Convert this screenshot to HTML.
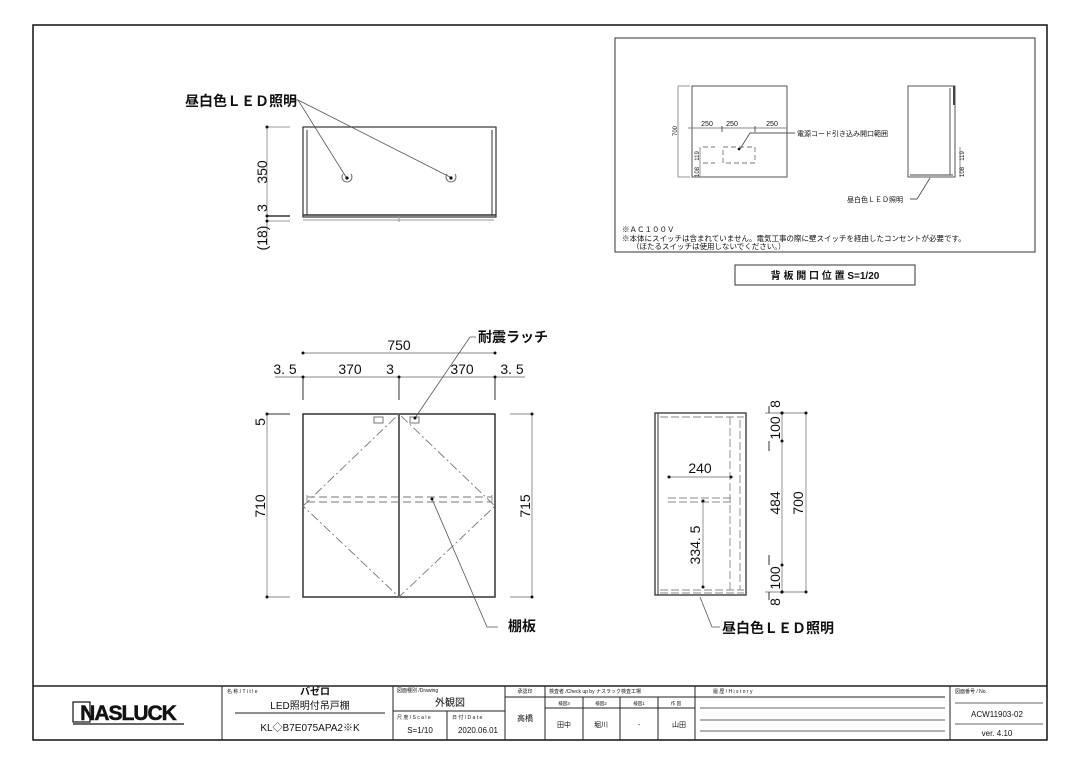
<!DOCTYPE html>
<html><head><meta charset="utf-8"><style>
html,body{margin:0;padding:0;background:#fff;}
svg{display:block;font-family:"Liberation Sans","Noto Sans CJK JP",sans-serif;}
.t{fill:#111;}
</style></head><body>
<svg width="1080" height="764" viewBox="0 0 1080 764" xmlns="http://www.w3.org/2000/svg">
<rect x="0" y="0" width="1080" height="764" fill="#fff"/>
<rect x="33" y="25" width="1014" height="715" fill="none" stroke="#111" stroke-width="1.5"/>

<!-- ===== Top-left view ===== -->
<g stroke="#333" fill="none" stroke-width="1">
<rect x="303" y="127" width="193" height="90" stroke-width="1.2"/>
<line x1="307" y1="130" x2="307" y2="215"/>
<line x1="492" y1="130" x2="492" y2="215"/>
<line x1="303" y1="215" x2="496" y2="215" stroke-width="1.5"/>
<line x1="303" y1="220" x2="494" y2="220" stroke="#999"/>
<line x1="399" y1="216" x2="399" y2="222" stroke="#999"/>
<line x1="267" y1="127" x2="267" y2="245" stroke="#999"/>
<line x1="267" y1="127" x2="290" y2="127" stroke="#999"/>
<line x1="267" y1="216" x2="290" y2="216" stroke-width="1.5"/>
<line x1="267" y1="221" x2="290" y2="221" stroke="#999"/>
<line x1="298" y1="100" x2="346" y2="177" stroke="#555" stroke-width="0.8"/>
<line x1="298" y1="100" x2="450" y2="177" stroke="#555" stroke-width="0.8"/>
<line x1="292" y1="100" x2="298" y2="100" stroke="#555"/>
<path d="M343 174 a5 5 0 1 0 8 0" stroke="#666"/>
<path d="M447 174 a5 5 0 1 0 8 0" stroke="#666"/>
</g>
<circle cx="347" cy="178" r="1.6" fill="#111"/><circle cx="451" cy="178" r="1.6" fill="#111"/>
<circle cx="267" cy="127" r="1.5" fill="#111"/><circle cx="267" cy="216" r="1.5" fill="#111"/><circle cx="267" cy="221" r="1.5" fill="#111"/>
<text x="185" y="106" font-size="14" font-weight="bold" class="t">昼白色ＬＥＤ照明</text>
<text transform="translate(267,172) rotate(-90)" font-size="14" text-anchor="middle" class="t">350</text>
<text transform="translate(267,208) rotate(-90)" font-size="14" text-anchor="middle" class="t">3</text>
<text transform="translate(267,238) rotate(-90)" font-size="14" text-anchor="middle" class="t">(18)</text>

<!-- ===== Front elevation ===== -->
<g stroke="#333" fill="none">
<rect x="303" y="414" width="192" height="183" stroke-width="1.5"/>
<line x1="399" y1="414" x2="399" y2="597" stroke-width="1.5"/>
<g stroke="#777" stroke-dasharray="9,3,2,3" stroke-width="0.9">
<polyline points="303,506 399,414 495,506 399,597 303,506"/>
</g>
<g stroke="#777" stroke-dasharray="8,4" stroke-width="0.9">
<line x1="307" y1="497" x2="492" y2="497"/><line x1="307" y1="502" x2="492" y2="502"/>
</g>
<line x1="307" y1="495" x2="307" y2="503" stroke="#999"/><line x1="492" y1="495" x2="492" y2="503" stroke="#999"/>
<g stroke="#888" stroke-width="0.9">
<line x1="303" y1="353" x2="495" y2="353"/>
<line x1="275" y1="377" x2="525" y2="377"/>
<line x1="267" y1="414" x2="267" y2="597"/>
<line x1="267" y1="597" x2="290" y2="597"/>
<line x1="532" y1="414" x2="532" y2="597"/>
<line x1="510" y1="414" x2="532" y2="414"/>
<line x1="510" y1="597" x2="532" y2="597"/>
</g>
<g stroke="#333">
<line x1="303" y1="377" x2="303" y2="400"/><line x1="399" y1="377" x2="399" y2="400"/><line x1="495" y1="377" x2="495" y2="400"/>
<line x1="267" y1="414" x2="290" y2="414"/>
</g>
<g stroke="#555" stroke-width="0.8">
<polyline points="415,418 470,337 476,337"/>
<polyline points="432,499 487,627 498,627"/>
</g>
<rect x="374" y="417" width="9" height="6" stroke="#777"/><rect x="410" y="417" width="9" height="6" stroke="#777"/>
</g>
<g fill="#111">
<circle cx="303" cy="353" r="1.5"/><circle cx="495" cy="353" r="1.5"/>
<circle cx="303" cy="377" r="1.5"/><circle cx="399" cy="377" r="1.5"/><circle cx="495" cy="377" r="1.5"/>
<circle cx="267" cy="414" r="1.5"/><circle cx="267" cy="597" r="1.5"/><circle cx="532" cy="414" r="1.5"/><circle cx="532" cy="597" r="1.5"/>
<circle cx="432" cy="499" r="1.5"/><circle cx="415" cy="418" r="1.5"/>
</g>
<text x="399" y="350" font-size="14" text-anchor="middle" class="t">750</text>
<text x="285" y="374" font-size="14" text-anchor="middle" class="t">3. 5</text>
<text x="350" y="374" font-size="14" text-anchor="middle" class="t">370</text>
<text x="390" y="374" font-size="14" text-anchor="middle" class="t">3</text>
<text x="462" y="374" font-size="14" text-anchor="middle" class="t">370</text>
<text x="512" y="374" font-size="14" text-anchor="middle" class="t">3. 5</text>
<text x="478" y="342" font-size="14" font-weight="bold" class="t">耐震ラッチ</text>
<text x="508" y="631" font-size="14" font-weight="bold" class="t">棚板</text>
<text transform="translate(265,422) rotate(-90)" font-size="14" text-anchor="middle" class="t">5</text>
<text transform="translate(265,506) rotate(-90)" font-size="14" text-anchor="middle" class="t">710</text>
<text transform="translate(530,506) rotate(-90)" font-size="14" text-anchor="middle" class="t">715</text>

<!-- ===== Side view ===== -->
<g fill="none" stroke="#333">
<rect x="655" y="413" width="91" height="182" stroke-width="1.3"/>
<line x1="658" y1="413" x2="658" y2="595"/>
<g stroke="#888" stroke-dasharray="8,3" stroke-width="0.9">
<line x1="660" y1="417" x2="744" y2="417"/>
<line x1="730" y1="417" x2="730" y2="590"/>
<line x1="660" y1="590" x2="744" y2="590"/>
<line x1="668" y1="498" x2="731" y2="498"/><line x1="668" y1="502" x2="731" y2="502"/>
<line x1="660" y1="593" x2="744" y2="593"/>
<line x1="740" y1="420" x2="740" y2="590"/>
</g>
<g stroke="#888" stroke-width="0.9">
<line x1="669" y1="477" x2="731" y2="477"/>
<line x1="703" y1="501" x2="703" y2="587"/>
<line x1="782" y1="413" x2="782" y2="592"/>
<line x1="806" y1="413" x2="806" y2="592"/>
<line x1="765" y1="413" x2="806" y2="413"/>
<line x1="765" y1="592" x2="806" y2="592"/>
</g>
<g stroke="#333"><line x1="769" y1="441" x2="769" y2="451"/><line x1="769" y1="555" x2="769" y2="565"/><line x1="769" y1="406" x2="769" y2="413"/><line x1="769" y1="592" x2="769" y2="600"/></g>
<polyline points="700,597 712,627 720,627" stroke="#555" stroke-width="0.8"/>
</g>
<g fill="#111">
<circle cx="669" cy="477" r="1.5"/><circle cx="731" cy="477" r="1.5"/><circle cx="703" cy="501" r="1.5"/><circle cx="703" cy="587" r="1.5"/>
<circle cx="782" cy="413" r="1.6"/><circle cx="782" cy="441" r="1.5"/><circle cx="782" cy="565" r="1.5"/><circle cx="782" cy="592" r="1.6"/>
<circle cx="806" cy="413" r="1.5"/><circle cx="806" cy="592" r="1.5"/>
</g>
<text x="700" y="473" font-size="14" text-anchor="middle" class="t">240</text>
<text transform="translate(700,545) rotate(-90)" font-size="14" text-anchor="middle" class="t">334. 5</text>
<text transform="translate(780,404) rotate(-90)" font-size="14" text-anchor="middle" class="t">8</text>
<text transform="translate(780,428) rotate(-90)" font-size="14" text-anchor="middle" class="t">100</text>
<text transform="translate(780,503) rotate(-90)" font-size="14" text-anchor="middle" class="t">484</text>
<text transform="translate(780,578) rotate(-90)" font-size="14" text-anchor="middle" class="t">100</text>
<text transform="translate(780,602) rotate(-90)" font-size="14" text-anchor="middle" class="t">8</text>
<text transform="translate(803,503) rotate(-90)" font-size="14" text-anchor="middle" class="t">700</text>
<text x="722" y="633" font-size="14" font-weight="bold" class="t">昼白色ＬＥＤ照明</text>

<!-- ===== Inset ===== -->
<rect x="615" y="38" width="420" height="214" fill="none" stroke="#333" stroke-width="1"/>
<g fill="none" stroke="#444" stroke-width="0.9">
<rect x="692" y="86" width="95" height="91"/>
<line x1="688" y1="128" x2="787" y2="128" stroke="#888"/>
<line x1="722" y1="126" x2="722" y2="132"/><line x1="755" y1="126" x2="755" y2="132"/>
<line x1="678" y1="86" x2="678" y2="177" stroke="#888"/>
<line x1="678" y1="86" x2="690" y2="86" stroke="#888"/><line x1="678" y1="177" x2="690" y2="177" stroke="#888"/>
<g stroke-dasharray="5,3" stroke="#777"><rect x="723" y="147" width="32" height="16"/><polyline points="703,147 715,147"/><polyline points="703,163 715,163"/></g>
<line x1="700" y1="147" x2="700" y2="177" stroke="#888"/>
<polyline points="740,149 750,133 795,133" stroke="#555"/>
<rect x="908" y="86" width="47" height="91"/>
<line x1="950" y1="88" x2="950" y2="175"/><line x1="910" y1="175" x2="953" y2="175"/>
<line x1="954" y1="86" x2="954" y2="105" stroke-width="2"/>
<line x1="960" y1="147" x2="960" y2="177" stroke="#888"/>
<polyline points="930,178 917,199 910,199" stroke="#555"/>
</g>
<circle cx="739" cy="149" r="1.3" fill="#111"/>
<text x="707" y="126" font-size="7" text-anchor="middle" class="t">250</text>
<text x="732" y="126" font-size="7" text-anchor="middle" class="t">250</text>
<text x="772" y="126" font-size="7" text-anchor="middle" class="t">250</text>
<text transform="translate(677,131) rotate(-90)" font-size="6" text-anchor="middle" class="t">700</text>
<text transform="translate(699,156) rotate(-90)" font-size="6" text-anchor="middle" class="t">119</text>
<text transform="translate(699,172) rotate(-90)" font-size="6" text-anchor="middle" class="t">108</text>
<text transform="translate(964,156) rotate(-90)" font-size="6" text-anchor="middle" class="t">119</text>
<text transform="translate(964,172) rotate(-90)" font-size="6" text-anchor="middle" class="t">108</text>
<text x="797" y="136" font-size="7" class="t">電源コード引き込み開口範囲</text>
<text x="847" y="202" font-size="7" class="t">昼白色ＬＥＤ照明</text>
<text x="622" y="232" font-size="7.5" class="t">※ＡＣ１００Ｖ</text>
<text x="622" y="241" font-size="7.5" class="t">※本体にスイッチは含まれていません。電気工事の際に壁スイッチを経由したコンセントが必要です。</text>
<text x="632" y="249" font-size="7.5" class="t">（ほたるスイッチは使用しないでください。）</text>
<rect x="735" y="265" width="180" height="20" fill="none" stroke="#333"/>
<text x="825" y="279" font-size="10" font-weight="bold" text-anchor="middle" class="t">背 板 開 口 位 置 S=1/20</text>

<!-- ===== Title block ===== -->
<g stroke="#222" stroke-width="1" fill="none">
<line x1="33" y1="686" x2="1047" y2="686" stroke-width="1.5"/>
<line x1="222" y1="686" x2="222" y2="740"/>
<line x1="393" y1="686" x2="393" y2="740"/>
<line x1="505" y1="686" x2="505" y2="740"/>
<line x1="545" y1="686" x2="545" y2="740"/>
<line x1="695" y1="686" x2="695" y2="740"/>
<line x1="950" y1="686" x2="950" y2="740"/>
<line x1="235" y1="713" x2="385" y2="713"/>
<line x1="393" y1="711" x2="505" y2="711"/>
<line x1="447" y1="711" x2="447" y2="740"/>
<line x1="505" y1="697" x2="695" y2="697"/>
<line x1="545" y1="708" x2="695" y2="708"/>
<line x1="583" y1="697" x2="583" y2="740"/><line x1="620" y1="697" x2="620" y2="740"/><line x1="658" y1="697" x2="658" y2="740"/>
<line x1="695" y1="697" x2="945" y2="697"/>
<line x1="700" y1="708" x2="945" y2="708" stroke="#666"/>
<line x1="700" y1="720" x2="945" y2="720" stroke="#666"/>
<line x1="700" y1="731" x2="945" y2="731" stroke="#666"/>
<line x1="955" y1="703" x2="1043" y2="703" stroke="#666"/>
<line x1="955" y1="724" x2="1043" y2="724" stroke="#666"/>
</g>
<rect x="73" y="702" width="17" height="20" fill="none" stroke="#111" stroke-width="1.2"/>
<text x="128" y="720" font-size="21" font-weight="bold" text-anchor="middle" fill="#111" stroke="#111" stroke-width="0.5" letter-spacing="-1">NASLUCK</text>
<line x1="73" y1="724" x2="184" y2="724" stroke="#111" stroke-width="1.2"/>
<g class="t">
<text x="227" y="693" font-size="5">名 称 / T i t l e</text>
<text x="300" y="695" font-size="10" font-weight="bold">バゼロ</text>
<text x="310" y="709" font-size="10" text-anchor="middle">LED照明付吊戸棚</text>
<text x="310" y="731" font-size="10" text-anchor="middle">KL◇B7E075APA2※K</text>
<text x="397" y="692" font-size="5">図面種別 /Drawing</text>
<text x="450" y="706" font-size="10" text-anchor="middle">外観図</text>
<text x="397" y="719" font-size="5">尺 度 / S c a l e</text>
<text x="420" y="733" font-size="8" text-anchor="middle">S=1/10</text>
<text x="452" y="719" font-size="5">日 付 / D a t e</text>
<text x="478" y="733" font-size="8" text-anchor="middle">2020.06.01</text>
<text x="525" y="693" font-size="5" text-anchor="middle">承認印</text>
<text x="525" y="721" font-size="8" text-anchor="middle">高橋</text>
<text x="549" y="693" font-size="5">検査者 /Check up by ナスラック検査工場</text>
<text x="564" y="705" font-size="4.5" text-anchor="middle">検図3</text>
<text x="601" y="705" font-size="4.5" text-anchor="middle">検図2</text>
<text x="639" y="705" font-size="4.5" text-anchor="middle">検図1</text>
<text x="676" y="705" font-size="4.5" text-anchor="middle">作 図</text>
<text x="564" y="727" font-size="7" text-anchor="middle">田中</text>
<text x="601" y="727" font-size="7" text-anchor="middle">堀川</text>
<text x="639" y="727" font-size="7" text-anchor="middle">-</text>
<text x="679" y="727" font-size="7" text-anchor="middle">山田</text>
<text x="713" y="693" font-size="5">履 歴 / H i s t o r y</text>
<text x="955" y="693" font-size="5">図面番号 / No.</text>
<text x="997" y="717" font-size="8" text-anchor="middle">ACW11903-02</text>
<text x="997" y="736" font-size="8" text-anchor="middle">ver. 4.10</text>
</g>
</svg>
</body></html>
